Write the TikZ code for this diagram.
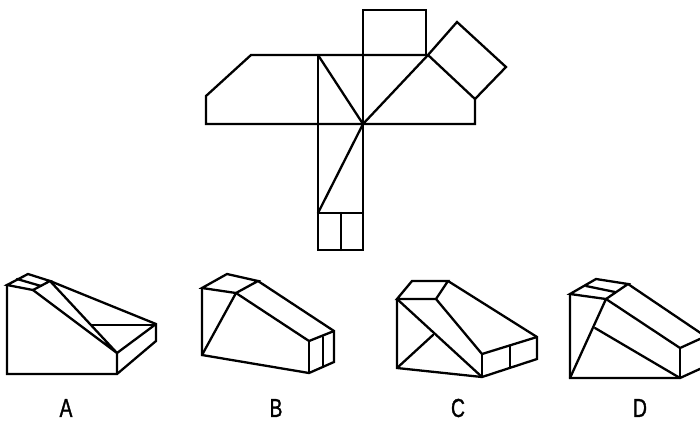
\documentclass[tikz,border=0pt]{standalone}
\usepackage{fontspec}
\usepackage{xcolor}
\usepackage{tikz}
\newfontfamily\optfont[FakeStretch=0.74,FakeBold=1.2]{Liberation Sans}

\begin{document}
\begin{tikzpicture}[
    x=1pt, y=-1pt,
    edge/.style={draw=black, line width=2.3pt, line join=miter, line cap=round},
    optlabel/.style={font=\optfont\fontsize{26}{26}\selectfont, text=black, inner sep=0pt}
]
    \useasboundingbox (0,0) rectangle (700,421);
    \clip (0,0) rectangle (700,421);

    % Net
    \draw [edge] (363,55) -- (363,10) -- (426,10) -- (426,55);
    \draw [edge] (428,55) -- (251,55) -- (206,96) -- (206,124) -- (475,124) -- (475,99);
    \draw [edge] (428,55) -- (457,22) -- (506,67) -- (475,99) -- cycle;
    \draw [edge] (318,55) -- (318,250) -- (363,250) -- (363,55);
    \draw [edge] (318,213) -- (363,213);
    \draw [edge] (341,213) -- (341,250);
    \draw [edge] (318,55) -- (363,124) -- (428,55);
    \draw [edge] (363,124) -- (318,213);

    % Option A
    \draw [edge] (7,285) -- (28,274) -- (50,281) -- (33,290) -- cycle;
    \draw [edge] (17,279) -- (41,286);
    \draw [edge] (7,285) -- (7,374) -- (117,374) -- (156,341) -- (156,324) -- (50,281);
    \draw [edge] (33,290) -- (117,353) -- (50,281);
    \draw [edge] (117,374) -- (117,353) -- (156,324);
    \draw [edge] (92,325) -- (156,325);

    % Option B
    \draw [edge] (202,288) -- (227,274) -- (258,281) -- (236,293) -- cycle;
    \draw [edge] (202,288) -- (202,355) -- (309,373) -- (334,362) -- (334,331) -- (258,281);
    \draw [edge] (236,293) -- (309,341) -- (334,331);
    \draw [edge] (309,341) -- (309,373);
    \draw [edge] (323,337) -- (323,367);
    \draw [edge] (236,293) -- (202,355);

    % Option C
    \draw [edge] (397,299) -- (412,281) -- (448,281) -- (436,299) -- cycle;
    \draw [edge] (397,299) -- (397,368) -- (482,377) -- (537,359) -- (537,337) -- (448,281);
    \draw [edge] (436,299) -- (482,354) -- (537,337);
    \draw [edge] (482,354) -- (482,377);
    \draw [edge] (510,346) -- (510,367);
    \draw [edge] (397,299) -- (482,377);
    \draw [edge] (397,368) -- (433,335);

    % Option D
    \draw [edge] (570,294) -- (596,279) -- (628,284) -- (606,299) -- cycle;
    \draw [edge] (586,286) -- (615,292);
    \draw [edge] (570,294) -- (570,378) -- (680,378) -- (702,368);
    \draw [edge] (606,299) -- (570,378);
    \draw [edge] (606,299) -- (680,348) -- (702,338);
    \draw [edge] (628,284) -- (702,334);
    \draw [edge] (595,328) -- (680,378);
    \draw [edge] (680,348) -- (680,378);

    % Labels
    \node [optlabel] (optA) at (66,408) {A};
    \node [optlabel] (optB) at (276,408) {B};
    \node [optlabel] (optC) at (458,408) {C};
    \node [optlabel] (optD) at (640,408) {D};
\end{tikzpicture}
\end{document}
